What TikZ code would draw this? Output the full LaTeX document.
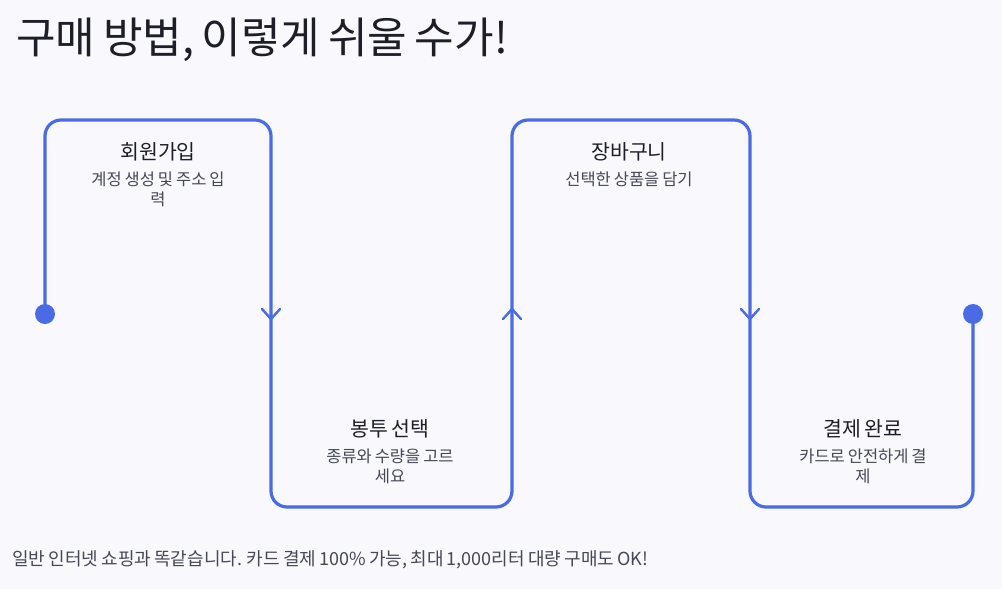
\documentclass[tikz,border=0pt]{standalone}
\usepackage{fontspec}
\setmainfont[WordSpace=0.8]{Noto Sans CJK KR}
\usetikzlibrary{positioning,calc}

\definecolor{routeblue}{RGB}{74,107,229}
\definecolor{inkdark}{RGB}{30,30,40}
\definecolor{inkgray}{RGB}{70,72,88}
\definecolor{bgpale}{RGB}{248,248,253}

\tikzset{
  route/.style={draw=routeblue, line width=3.2pt, rounded corners=16pt, line cap=round, line join=round},
  chevron/.style={draw=routeblue, line width=2.4pt, line cap=round, line join=round},
  steptitle/.style={inner sep=0pt, text=inkdark, font=\fontsize{20.5}{24}\selectfont},
  stepsub/.style={inner sep=0pt, text=inkgray, align=center, font=\fontsize{16.5}{20.5}\selectfont},
}

\begin{document}
\begin{tikzpicture}[x=1pt,y=-1pt]

\fill[bgpale] (0,0) rectangle (1002,589);
\useasboundingbox (0,0) rectangle (1002,589);

\begin{scope}[shift={(0,0)}]
        \coordinate (S) at (45,314);
        \coordinate (A) at (45,120);
        \coordinate (B) at (271,120);
        \coordinate (C) at (271,507);
        \coordinate (D) at (512,507);
        \coordinate (E) at (512,120);
        \coordinate (F) at (750,120);
        \coordinate (G) at (750,507);
        \coordinate (H) at (973,507);
        \coordinate (T) at (973,314);

        \coordinate (M1) at (271,319);
        \coordinate (M2) at (512,309);
        \coordinate (M3) at (750,319);

        \draw[route] (S) -- (A) -- (B) -- (C) -- (D) -- (E) -- (F) -- (G) -- (H) -- (T);

        % Strzalki
        \draw[chevron] ($(M1)+(-9,-10)$) -- (M1) -- ($(M1)+(9,-10)$);
        \draw[chevron] ($(M2)+(-9,10)$) -- (M2) -- ($(M2)+(9,10)$);
        \draw[chevron] ($(M3)+(-9,-10)$) -- (M3) -- ($(M3)+(9,-10)$);

        % Punkty
        \fill[routeblue] (S) circle[radius=10pt];
        \fill[routeblue] (T) circle[radius=10pt];
\end{scope}

\node[anchor=west, inner sep=0pt, text=inkdark, font=\fontsize{43}{50}\selectfont] (title) at (16,40) {구매 방법, 이렇게 쉬울 수가!};

\node[steptitle] (join) at (158,152) {회원가입};
\node[stepsub, below=10pt of join] (joinsub) {계정 생성 및 주소 입\\력};

\node[steptitle] (envelope) at (390,429) {봉투 선택};
\node[stepsub, below=10pt of envelope] (envelopesub) {종류와 수량을 고르\\세요};

\node[steptitle] (cart) at (629,152) {장바구니};
\node[stepsub, below=10pt of cart] (cartsub) {선택한 상품을 담기};

\node[steptitle] (pay) at (863,429) {결제 완료};
\node[stepsub, below=10pt of pay] (paysub) {카드로 안전하게 결\\제};

\node[anchor=west, inner sep=0pt, text=inkgray, font=\fontsize{18}{20}\selectfont] (note) at (12,560) {일반 인터넷 쇼핑과 똑같습니다. 카드 결제 100\% 가능, 최대 1,000리터 대량 구매도 OK!};

\end{tikzpicture}
\end{document}
